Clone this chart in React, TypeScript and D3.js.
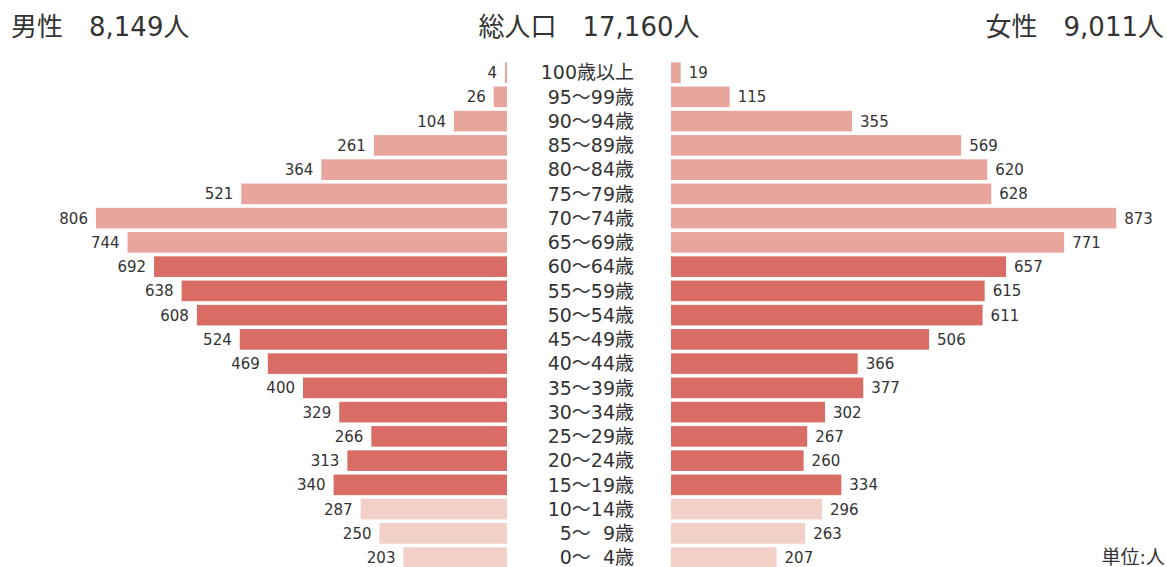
import * as d3 from 'd3'

const ages = [
  '100歳以上', '95～99歳', '90～94歳', '85～89歳', '80～84歳', '75～79歳', '70～74歳',
  '65～69歳', '60～64歳', '55～59歳', '50～54歳', '45～49歳', '40～44歳', '35～39歳',
  '30～34歳', '25～29歳', '20～24歳', '15～19歳', '10～14歳', '5～\u20079歳', '0～\u20074歳',
]
const male = [4, 26, 104, 261, 364, 521, 806, 744, 692, 638, 608, 524, 469, 400, 329, 266, 313, 340, 287, 250, 203]
const female = [19, 115, 355, 569, 620, 628, 873, 771, 657, 615, 611, 506, 366, 377, 302, 267, 260, 334, 296, 263, 207]
// 0 = 65歳以上, 1 = 15～64歳, 2 = 0～14歳
const groups = [0, 0, 0, 0, 0, 0, 0, 0, 1, 1, 1, 1, 1, 1, 1, 1, 1, 1, 2, 2, 2]
const groupColors = ['#e8a59b', '#d96d66', '#f2d0c7']

const W = 1167
const H = 567
const font = '"DejaVu Sans", "Noto Sans CJK JP", sans-serif'

export default function App() {
  const y = d3.scaleBand<string>().domain(ages).range([60.5, 60.5 + 21 * 24.25]).paddingInner(0.15).paddingOuter(0.075)
  const xm = d3.scaleLinear().domain([0, 900]).range([0, 459])
  const maleRight = 507
  const femaleLeft = 671
  const labelRight = 634
  const fmt = d3.format(',')

  return (
    <svg width={W} height={H} style={{ position: 'absolute', left: 0, top: 0, background: '#fff' }} fontFamily={font}>
      <text x={11} y={36} fontSize={26} fill="#333">男性　{fmt(d3.sum(male))}人</text>
      <text x={589} y={36} fontSize={26} fill="#333" textAnchor="middle">総人口　{fmt(d3.sum(male) + d3.sum(female))}人</text>
      <text x={1164} y={36} fontSize={26} fill="#333" textAnchor="end">女性　{fmt(d3.sum(female))}人</text>

      {ages.map((a, i) => {
        const yy = y(a)!
        const bh = y.bandwidth()
        const cy = yy + bh / 2
        const c = groupColors[groups[i]]
        return (
          <g key={a}>
            <rect x={maleRight - xm(male[i])} y={yy} width={xm(male[i])} height={bh} fill={c} />
            <rect x={femaleLeft} y={yy} width={xm(female[i])} height={bh} fill={c} />
            <text x={maleRight - xm(male[i]) - 8} y={cy} dy="0.36em" fontSize={15} fill="#333" textAnchor="end">{male[i]}</text>
            <text x={femaleLeft + xm(female[i]) + 8} y={cy} dy="0.36em" fontSize={15} fill="#333">{female[i]}</text>
            <text x={labelRight} y={cy} dy="0.36em" fontSize={19} fill="#333" textAnchor="end">{a}</text>
          </g>
        )
      })}

      <text x={1165} y={564} fontSize={19} fill="#333" textAnchor="end">単位:人</text>
    </svg>
  )
}
